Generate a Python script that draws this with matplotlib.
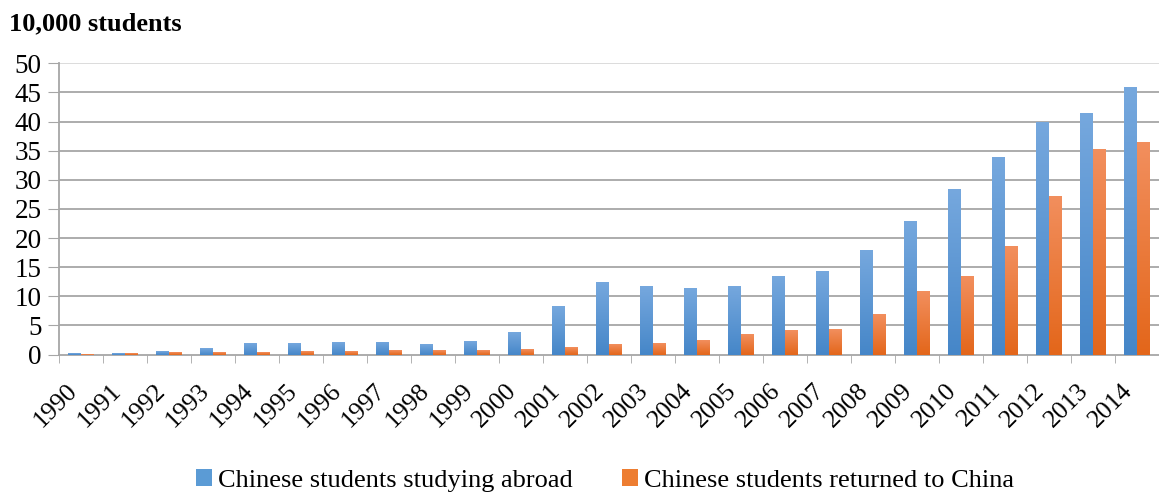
import numpy as np
import matplotlib
matplotlib.use('Agg')
import matplotlib.pyplot as plt
from matplotlib.patches import Patch
from matplotlib.colors import LinearSegmentedColormap

plt.rcParams['font.family'] = ['Liberation Serif', 'DejaVu Serif']

# data, in units of 10,000 students
years = [str(y) for y in range(1990, 2015)]
abroad = [0.30, 0.29, 0.65, 1.07, 1.91, 2.04, 2.09, 2.24, 1.76, 2.37,
          3.90, 8.40, 12.52, 11.73, 11.47, 11.85, 13.40, 14.40, 17.98,
          22.93, 28.47, 33.97, 39.96, 41.39, 45.98]
returned = [0.16, 0.21, 0.36, 0.51, 0.42, 0.58, 0.66, 0.71, 0.74, 0.77,
            0.91, 1.22, 1.79, 2.02, 2.47, 3.50, 4.20, 4.40, 6.93,
            10.83, 13.48, 18.62, 27.29, 35.35, 36.48]
series_names = ['Chinese students studying abroad',
                'Chinese students returned to China']

blue_cmap = LinearSegmentedColormap.from_list('b', ['#4586C8', '#76A8DE'])
orange_cmap = LinearSegmentedColormap.from_list('o', ['#E3661A', '#F28F5E'])

fig = plt.figure(figsize=(11.59, 4.98), dpi=100)
ax = fig.add_axes([0.0513, 0.288, 0.9487, 0.585])

x = np.arange(len(years))
w = 0.295
bars_b = ax.bar(x - w / 2, abroad, w, color='#5B9BD5', zorder=2)
bars_o = ax.bar(x + w / 2, returned, w, color='#ED7D31', zorder=2)

# vertical gradient fill inside each bar
grad = np.linspace(0, 1, 256).reshape(-1, 1)
for bars, cmap in [(bars_b, blue_cmap), (bars_o, orange_cmap)]:
    for b in bars:
        x0, y0 = b.get_x(), b.get_y()
        bw, bh = b.get_width(), b.get_height()
        im = ax.imshow(grad, cmap=cmap, aspect='auto', origin='lower',
                       extent=[x0, x0 + bw, y0, y0 + bh], zorder=3)
        im.set_clip_path(b)

ax.set_xlim(-0.5, len(years) - 0.5)
ax.set_ylim(0, 50)
ax.set_yticks(range(0, 51, 5))
for yv in range(5, 51, 5):
    ax.axhline(yv, color='#D9D9D9' if yv == 50 else '#A6A6A6',
               lw=1.3, zorder=1)

ax.set_xticks(x)
ax.set_xticklabels(years, rotation=45, ha='right', fontsize=18.5)
ax.set_xticks(np.arange(-0.5, len(years), 1), minor=True)
ax.tick_params(axis='x', which='major', length=0, pad=18)
ax.tick_params(axis='x', which='minor', length=6, color='#A6A6A6')
ax.tick_params(axis='y', length=8, color='#A6A6A6', labelsize=19.5, pad=5)

for s in ['top', 'right']:
    ax.spines[s].set_visible(False)
for s in ['left', 'bottom']:
    ax.spines[s].set_color('#A6A6A6')
    ax.spines[s].set_linewidth(1.3)

fig.text(0.008, 0.953, '10,000 students', fontsize=19, fontweight='bold',
         ha='left', va='center')

handles = [Patch(facecolor='#5B9BD5'), Patch(facecolor='#ED7D31')]
fig.legend(handles, series_names, loc='lower center',
           bbox_to_anchor=(0.522, -0.036), ncol=2, frameon=False,
           fontsize=19, handlelength=0.6, handleheight=0.6,
           handletextpad=0.2, columnspacing=1.9)

fig.savefig('out.png', dpi=100)
